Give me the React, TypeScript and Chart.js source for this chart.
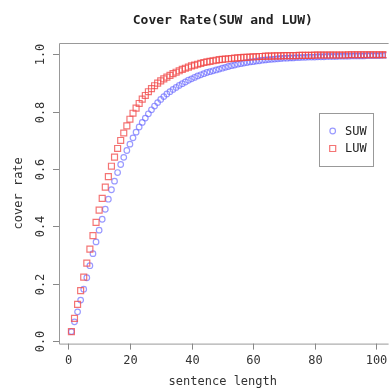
import React, { useEffect, useRef } from "react";
import { Chart, registerables } from "chart.js";

Chart.register(...registerables);

const lengths: number[] = Array.from({ length: 103 }, (_, i) => i + 1);

const suwRate: number[] = [
  0.033, 0.067, 0.102, 0.143, 0.181, 0.221, 0.263, 0.305, 0.346, 0.387,
  0.425, 0.460, 0.495, 0.528, 0.558, 0.588, 0.616, 0.641, 0.665, 0.687,
  0.709, 0.729, 0.747, 0.763, 0.778, 0.793, 0.807, 0.820, 0.832, 0.843,
  0.853, 0.862, 0.870, 0.878, 0.885, 0.892, 0.898, 0.904, 0.910, 0.915,
  0.920, 0.925, 0.929, 0.933, 0.937, 0.940, 0.943, 0.946, 0.949, 0.952,
  0.955, 0.958, 0.961, 0.963, 0.966, 0.968, 0.970, 0.972, 0.974, 0.975,
  0.977, 0.978, 0.980, 0.981, 0.982, 0.983, 0.984, 0.985, 0.986, 0.987,
  0.987, 0.988, 0.988, 0.989, 0.989, 0.990, 0.990, 0.991, 0.991, 0.991,
  0.992, 0.992, 0.992, 0.993, 0.993, 0.993, 0.993, 0.994, 0.994, 0.994,
  0.994, 0.995, 0.995, 0.995, 0.995, 0.995, 0.996, 0.996, 0.996, 0.996,
  0.996, 0.997, 0.997,
];

const luwRate: number[] = [
  0.033, 0.079, 0.128, 0.176, 0.223, 0.272, 0.321, 0.368, 0.414, 0.457,
  0.498, 0.537, 0.574, 0.610, 0.642, 0.672, 0.700, 0.726, 0.751, 0.774,
  0.795, 0.813, 0.829, 0.844, 0.857, 0.870, 0.881, 0.891, 0.900, 0.908,
  0.915, 0.921, 0.927, 0.933, 0.938, 0.943, 0.948, 0.952, 0.956, 0.960,
  0.963, 0.966, 0.969, 0.972, 0.974, 0.976, 0.978, 0.980, 0.982, 0.983,
  0.984, 0.985, 0.986, 0.987, 0.988, 0.989, 0.990, 0.990, 0.991, 0.992,
  0.992, 0.993, 0.993, 0.994, 0.994, 0.994, 0.995, 0.995, 0.995, 0.996,
  0.996, 0.996, 0.996, 0.996, 0.997, 0.997, 0.997, 0.997, 0.997, 0.998,
  0.998, 0.998, 0.998, 0.998, 0.998, 0.998, 0.998, 0.998, 0.998, 0.998,
  0.999, 0.999, 0.999, 0.999, 0.999, 0.999, 0.999, 0.999, 0.999, 0.999,
  0.999, 0.999, 0.999,
];

const xTicks: number[] = [0, 20, 40, 60, 80, 100];
const yTicks: number[] = [0, 0.2, 0.4, 0.6, 0.8, 1.0];
const yTickLabels: string[] = ["0.0", "0.2", "0.4", "0.6", "0.8", "1.0"];
const seriesNames: string[] = ["SUW", "LUW"];

const titleText = "Cover Rate(SUW and LUW)";
const xTitle = "sentence length";
const yTitle = "cover rate";

const SUW_COLOR = "rgba(100,100,255,0.65)";
const LUW_COLOR = "rgba(240,70,70,0.75)";
const FONT = '"DejaVu Sans Mono", monospace';

const rPlotPlugin = {
  id: "rPlot",
  afterDraw(chart: any) {
    const ctx = chart.ctx as CanvasRenderingContext2D;
    const { left, top, right, bottom } = chart.chartArea;
    const xs = chart.scales.x;
    const ys = chart.scales.y;
    ctx.save();
    ctx.strokeStyle = "#999";
    ctx.lineWidth = 1;
    ctx.beginPath();
    ctx.moveTo(right + 2, top + 0.5);
    ctx.lineTo(left + 0.5, top + 0.5);
    ctx.lineTo(left + 0.5, bottom + 0.5);
    ctx.lineTo(right + 2, bottom + 0.5);
    ctx.stroke();

    ctx.strokeStyle = "#888";
    ctx.fillStyle = "#333";
    ctx.font = "12px " + FONT;
    ctx.textAlign = "center";
    ctx.textBaseline = "middle";
    xTicks.forEach((v) => {
      const px = Math.round(xs.getPixelForValue(v)) + 0.5;
      ctx.beginPath();
      ctx.moveTo(px, bottom);
      ctx.lineTo(px, bottom + 6);
      ctx.stroke();
      ctx.fillText(String(v), px, bottom + 17);
    });
    yTicks.forEach((v, i) => {
      const py = Math.round(ys.getPixelForValue(v)) + 0.5;
      ctx.beginPath();
      ctx.moveTo(left, py);
      ctx.lineTo(left - 6, py);
      ctx.stroke();
      ctx.save();
      ctx.translate(left - 18, py);
      ctx.rotate(-Math.PI / 2);
      ctx.fillText(yTickLabels[i], 0, 0);
      ctx.restore();
    });

    const cx = (left + right) / 2;
    ctx.fillStyle = "#222";
    ctx.font = "bold 13px " + FONT;
    ctx.fillText(titleText, cx, 21);
    ctx.fillStyle = "#333";
    ctx.font = "12px " + FONT;
    ctx.fillText(xTitle, cx, 382);
    ctx.save();
    ctx.translate(19, (top + bottom) / 2);
    ctx.rotate(-Math.PI / 2);
    ctx.fillText(yTitle, 0, 0);
    ctx.restore();

    const lx = 319.5, ly = 113.5, lw = 54, lh = 53;
    ctx.fillStyle = "#fff";
    ctx.fillRect(lx, ly, lw, lh);
    ctx.strokeStyle = "#999";
    ctx.strokeRect(lx, ly, lw, lh);
    // SUW entry
    ctx.lineWidth = 1.2;
    ctx.strokeStyle = SUW_COLOR;
    ctx.beginPath();
    ctx.arc(332.7, 131, 2.8, 0, Math.PI * 2);
    ctx.stroke();
    // LUW entry
    ctx.strokeStyle = LUW_COLOR;
    ctx.beginPath();
    ctx.rect(329.7, 145.5, 6, 6);
    ctx.stroke();
    ctx.fillStyle = "#222";
    ctx.textAlign = "left";
    ctx.font = "12px " + FONT;
    ctx.fillText(seriesNames[0], 345, 131.5);
    ctx.fillText(seriesNames[1], 345, 149);
    ctx.restore();
  },
};

export default function App() {
  const ref = useRef<HTMLCanvasElement | null>(null);
  useEffect(() => {
    if (!ref.current) return;
    const chart = new Chart(ref.current, {
      type: "scatter",
      data: {
        datasets: [
          {
            label: seriesNames[0],
            data: lengths.map((x, i) => ({ x, y: suwRate[i] })),
            pointStyle: "circle",
            pointRadius: 2.8,
            borderColor: SUW_COLOR,
            backgroundColor: "rgba(0,0,0,0)",
            borderWidth: 1.2,
            order: 1,
          },
          {
            label: seriesNames[1],
            data: lengths.map((x, i) => ({ x, y: luwRate[i] })),
            pointStyle: "rect",
            pointRadius: 4.2,
            borderColor: LUW_COLOR,
            backgroundColor: "rgba(0,0,0,0)",
            borderWidth: 1.2,
            order: 0,
          },
        ],
      },
      options: {
        responsive: false,
        animation: false,
        events: [],
        layout: { padding: { left: 59, top: 43, right: 0, bottom: 44.4 } },
        plugins: { legend: { display: false }, tooltip: { enabled: false } },
        scales: {
          x: { type: "linear", min: -3.03, max: 103.35, display: false },
          y: { type: "linear", min: -0.0088, max: 1.04, display: false },
        },
      },
      plugins: [rPlotPlugin],
    });
    return () => chart.destroy();
  }, []);
  return (
    <div style={{ position: "fixed", left: 0, top: 0, width: 392, height: 388, background: "#fff" }}>
      <canvas ref={ref} width={392} height={388} />
    </div>
  );
}
